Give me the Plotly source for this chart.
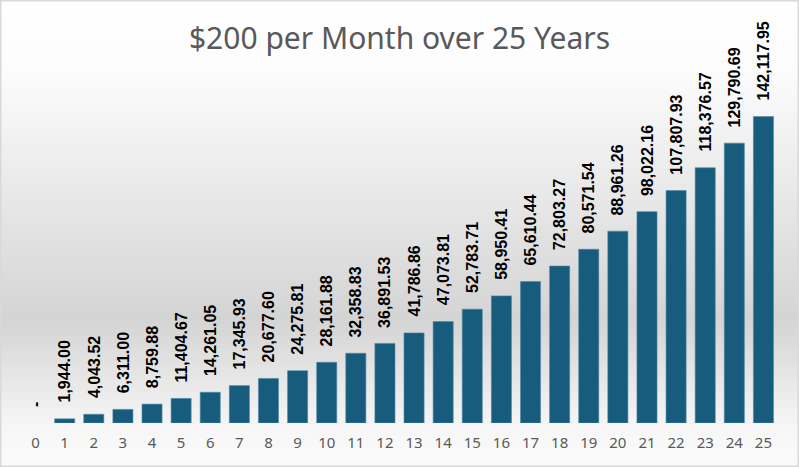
import plotly.graph_objects as go

W, H = 799, 467
M_L, M_R, M_T, M_B = 21, 21, 78, 44

TITLE = "$200 per Month over 25 Years"
years = list(range(0, 26))
balances = [
    0.00, 1944.00, 4043.52, 6311.00, 8759.88, 11404.67, 14261.05, 17345.93,
    20677.60, 24275.81, 28161.88, 32358.83, 36891.53, 41786.86, 47073.81,
    52783.71, 58950.41, 65610.44, 72803.27, 80571.54, 88961.26, 98022.16,
    107807.93, 118376.57, 129790.69, 142117.95,
]
labels = ["-" if v == 0 else f"{v:,.2f}" for v in balances]

# background gradient stops (pixel row from top, grey level)
bg_stops = [(0, 255), (70, 252), (320, 212), (430, 247), (467, 250)]

BAR = "#175c7c"
GREY_TXT = "#595959"


def grey_at(py):
    for (y0, g0), (y1, g1) in zip(bg_stops, bg_stops[1:]):
        if y0 <= py <= y1:
            return g0 + (g1 - g0) * (py - y0) / (y1 - y0)
    return bg_stops[-1][1]


def px_to_paper_x(px):
    return (px - M_L) / (W - M_L - M_R)


def px_to_paper_y(py):
    return (H - M_B - py) / (H - M_T - M_B)


fig = go.Figure()
fig.add_trace(go.Bar(
    x=years, y=balances,
    marker={"color": BAR,
            "line": {"color": "#4f88a8", "width": [0 if v == 0 else 0.6 for v in balances]}},
    hoverinfo="x+y",
))

shapes = []
step = 4
for py in range(0, H, step):
    g = int(round(grey_at(py + step / 2)))
    shapes.append(dict(
        type="rect", xref="paper", yref="paper", layer="below",
        x0=px_to_paper_x(0), x1=px_to_paper_x(W),
        y0=px_to_paper_y(py + step + 0.5), y1=px_to_paper_y(py),
        fillcolor=f"rgb({g},{g},{g})", line={"width": 0},
    ))
shapes.append(dict(
    type="rect", xref="paper", yref="paper", layer="above",
    x0=px_to_paper_x(0.75), x1=px_to_paper_x(W - 0.75),
    y0=px_to_paper_y(H - 0.75), y1=px_to_paper_y(0.75),
    line={"color": "#d9d9d9", "width": 1.5}, fillcolor="rgba(0,0,0,0)",
))

annotations = []
for x, v, t in zip(years, balances, labels):
    annotations.append(dict(
        x=x, y=v, xref="x", yref="y", text=f"<b>{t}</b>", showarrow=False,
        textangle=-90, yanchor="bottom", xanchor="center", yshift=15,
        borderpad=0,
        font={"family": "Liberation Sans, Arial, sans-serif", "size": 16, "color": "#000000"},
    ))

fig.update_layout(
    width=W, height=H,
    margin={"l": M_L, "r": M_R, "t": M_T, "b": M_B},
    paper_bgcolor="#ffffff", plot_bgcolor="rgba(0,0,0,0)",
    title={"text": TITLE, "x": 0.5, "xanchor": "center", "y": 1 - 38 / H, "yanchor": "middle",
           "font": {"family": "Noto Sans, sans-serif", "size": 30, "color": GREY_TXT}},
    bargap=0.31,
    showlegend=False,
    shapes=shapes,
    annotations=annotations,
)
fig.update_xaxes(
    range=[-0.5, 25.5], tickmode="array", tickvals=years, ticktext=[str(y) for y in years],
    showgrid=False, zeroline=False, showline=False, ticks="",
    tickfont={"family": "Noto Sans, sans-serif", "size": 15, "color": GREY_TXT},
    ticklabelstandoff=9,
)
fig.update_yaxes(range=[0, 160000], visible=False, showgrid=False, zeroline=False)

fig.write_html("out.html", config={"displayModeBar": False},
               post_script="document.body.style.margin='0';")
